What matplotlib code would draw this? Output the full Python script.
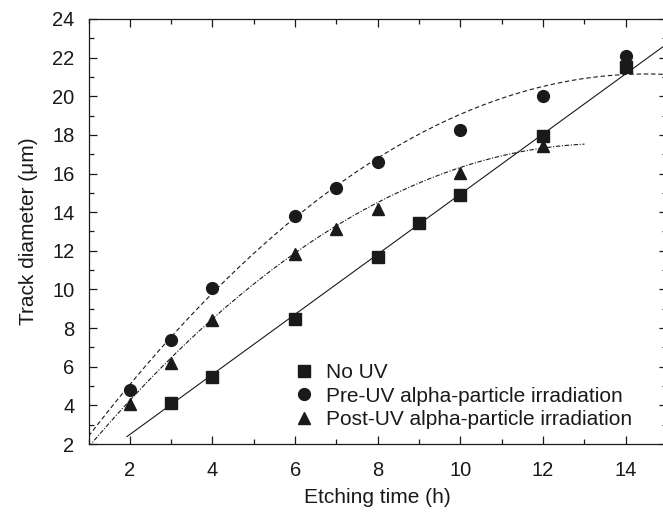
import numpy as np
import matplotlib
matplotlib.use("Agg")
import matplotlib.pyplot as plt
from matplotlib.ticker import MultipleLocator

plt.rcParams['font.family'] = ['Liberation Sans', 'DejaVu Sans']

# Data
t_nouv = [3, 4, 6, 8, 9, 10, 12, 14]
d_nouv = [4.12, 5.47, 8.47, 11.7, 13.42, 14.9, 17.94, 21.53]
t_pre = [2, 3, 4, 6, 7, 8, 10, 12, 14]
d_pre = [4.8, 7.4, 10.1, 13.82, 15.23, 16.58, 18.25, 20.0, 22.08]
t_post = [2, 3, 4, 6, 7, 8, 10, 12]
d_post = [4.05, 6.2, 8.4, 11.85, 13.15, 14.15, 16.05, 17.45]

# Fit curves (polynomial coefficients, highest power first) and ranges
fit_nouv = [1.556, -0.62]
range_nouv = [1.93, 15.0]
fit_pre = [-0.1029, 2.984, -0.48]
range_pre = [1.0, 15.0]
fit_post = [-0.1005, 2.7135, -0.77]
range_post = [1.0, 13.0]

labels = ["No UV", "Pre-UV alpha-particle irradiation", "Post-UV alpha-particle irradiation"]

fig = plt.figure(figsize=(6.63, 5.13), dpi=100)
ax = fig.add_axes([0.1335, 0.1345, 0.8727, 0.8285])

col = '#1a1a1a'
x1 = np.linspace(*range_nouv, 200)
ax.plot(x1, np.polyval(fit_nouv, x1), color=col, lw=0.8, ls='-')
x2 = np.linspace(*range_pre, 200)
ax.plot(x2, np.polyval(fit_pre, x2), color=col, lw=0.8, ls=(0, (4, 2.5)))
x3 = np.linspace(*range_post, 200)
ax.plot(x3, np.polyval(fit_post, x3), color=col, lw=0.8, ls=(0, (4, 1.5, 1, 1.5)))

ax.plot(t_nouv, d_nouv, 's', color=col, ms=8, ls='none', label=labels[0])
ax.plot(t_pre, d_pre, 'o', color=col, ms=8.5, ls='none', label=labels[1])
ax.plot(t_post, d_post, '^', color=col, ms=9, ls='none', label=labels[2])

ax.set_xlim(1, 15)
ax.set_ylim(2, 24)
ax.xaxis.set_major_locator(MultipleLocator(2))
ax.xaxis.set_minor_locator(MultipleLocator(1))
ax.yaxis.set_major_locator(MultipleLocator(2))
ax.yaxis.set_minor_locator(MultipleLocator(1))
ax.tick_params(which='both', direction='in', top=True, right=True, labelsize=14.5, colors=col)
ax.tick_params(which='major', length=6, width=0.9)
ax.tick_params(which='minor', length=3.5, width=0.9)
ax.tick_params(axis='x', which='major', pad=12)
ax.tick_params(axis='y', which='major', pad=10)
for s in ax.spines.values():
    s.set_linewidth(0.9)
    s.set_color(col)

ax.set_xlabel("Etching time (h)", fontsize=15, color=col, labelpad=6)
ax.set_ylabel("Track diameter (μm)", fontsize=15, color=col, labelpad=10)

leg = ax.legend(loc='lower left', bbox_to_anchor=(0.358, 0.035), frameon=False, fontsize=15,
                handlelength=0.8, handletextpad=0.65, labelspacing=0.22, borderaxespad=0,
                borderpad=0)
for txt in leg.get_texts():
    txt.set_color(col)

fig.savefig("out.png", dpi=100)
